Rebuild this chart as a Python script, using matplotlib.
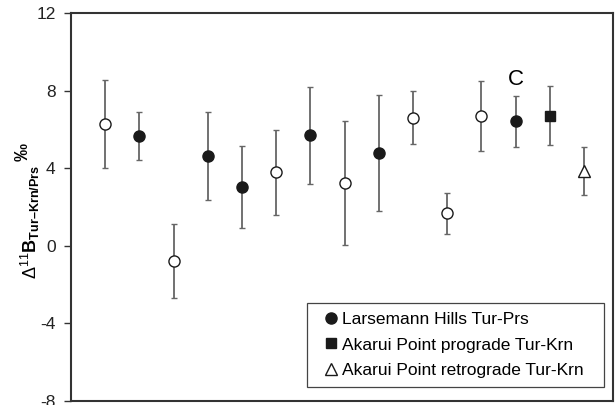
import numpy as np
import matplotlib
matplotlib.use("Agg")
import matplotlib.pyplot as plt

plt.rcParams['font.family'] = ['Liberation Sans', 'DejaVu Sans']
plt.rcParams['mathtext.fontset'] = 'custom'
plt.rcParams['mathtext.rm'] = 'Liberation Sans'
plt.rcParams['mathtext.it'] = 'Liberation Sans:italic'
plt.rcParams['mathtext.bf'] = 'Liberation Sans:bold'
plt.rcParams['axes.unicode_minus'] = False

# sample order along x, value and half error bar (permil)
x_pos = np.arange(1, 16)
values = [6.3, 5.65, -0.78, 4.63, 3.03, 3.8, 5.7, 3.25, 4.8, 6.62, 1.67, 6.7, 6.42, 6.72, 3.86]
errors = [2.28, 1.24, 1.9, 2.27, 2.1, 2.2, 2.5, 3.2, 3.0, 1.36, 1.05, 1.8, 1.3, 1.53, 1.25]
# o = open circle, f = Larsemann Hills, s = prograde, t = retrograde
kind = ['o', 'f', 'o', 'f', 'f', 'o', 'f', 'o', 'f', 'o', 'o', 'o', 'f', 's', 't']

labels = {'f': 'Larsemann Hills Tur-Prs',
          's': 'Akarui Point prograde Tur-Krn',
          't': 'Akarui Point retrograde Tur-Krn'}
styles = {'o': dict(marker='o', mfc='white', ms=8),
          'f': dict(marker='o', mfc='#1a1a1a', ms=8),
          's': dict(marker='s', mfc='#1a1a1a', ms=7.5),
          't': dict(marker='^', mfc='white', ms=9)}

fig = plt.figure(figsize=(6.15, 4.05), dpi=100)
ax = fig.add_axes([0.1154, 0.0106, 0.8813, 0.9565])

x_pos = np.array(x_pos)
values = np.array(values)
errors = np.array(errors)
kind = np.array(kind)

for k in ['o', 'f', 's', 't']:
    m = kind == k
    ax.errorbar(x_pos[m], values[m], yerr=errors[m], fmt='none', ecolor='#666666',
                elinewidth=1.3, capsize=2, capthick=1, zorder=2)
    ax.plot(x_pos[m], values[m], linestyle='none', mec='#1a1a1a', mew=1.0,
            label=labels.get(k, '_nolegend_'), zorder=3, **styles[k])

ax.set_xlim(0, 15.85)
ax.set_ylim(-8, 12)
ax.set_yticks([-8, -4, 0, 4, 8, 12])
ax.set_xticks([])
ax.tick_params(axis='y', direction='out', length=5, width=1, color='#333333',
               labelsize=12.5, labelcolor='#222222', pad=6)
for sp in ax.spines.values():
    sp.set_color('#333333')
    sp.set_linewidth(1.5)

ax.set_ylabel(r'$\Delta^{11}\mathbf{B}_{\mathbf{Tur–Krn/Prs}}$', fontsize=13)
ax.yaxis.set_label_coords(-0.053, 0.4626)
ax.text(-0.088, 0.642, '‰', transform=ax.transAxes, rotation=90, fontsize=13,
        fontweight='bold', ha='center', va='center')

ax.text(13, 8.6, 'C', fontsize=16, ha='center', va='center')

leg = ax.legend(loc='lower left', bbox_to_anchor=(0.4354, 0.036, 0.548, 0.2168),
                mode='expand', borderaxespad=0, fontsize=12.5, handlelength=1.8,
                handletextpad=-0.3, borderpad=0.5, labelspacing=0.6, markerscale=1.0,
                fancybox=False, edgecolor='#444444', framealpha=1)
leg.get_frame().set_linewidth(0.9)

fig.savefig('out.png', dpi=100)
